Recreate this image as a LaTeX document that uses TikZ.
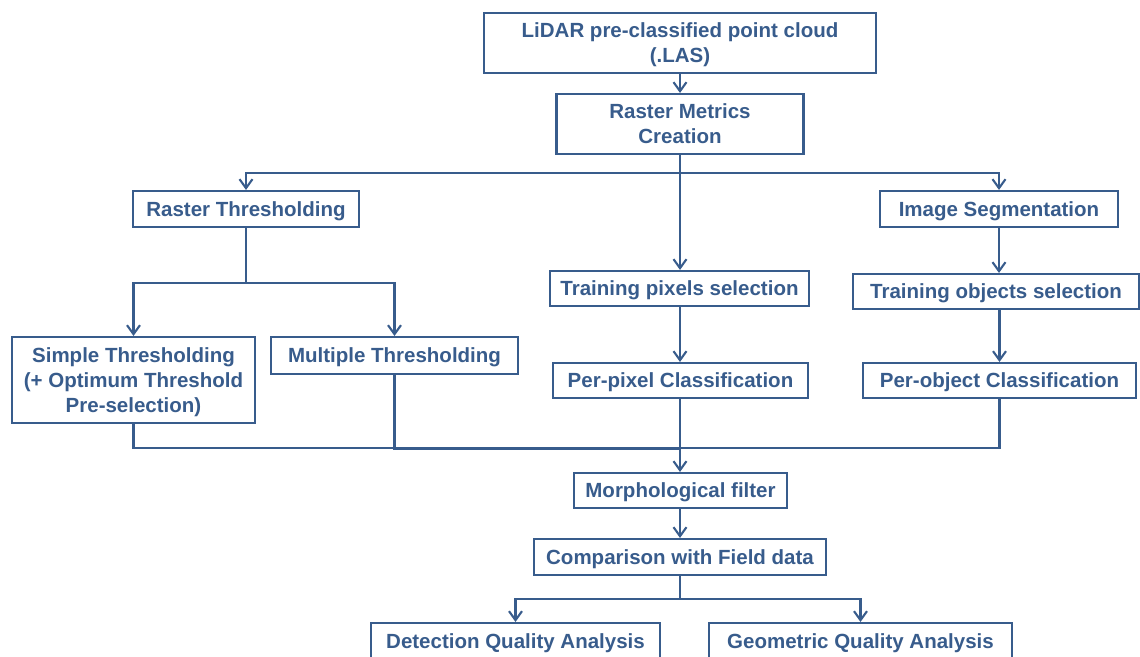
\documentclass[tikz,border=0pt]{standalone}
\usepackage{fontspec}
\setmainfont{Liberation Sans}
\usetikzlibrary{arrows.meta}
\definecolor{fc}{RGB}{56,92,140}
\begin{document}
\begin{tikzpicture}[x=1pt,y=-1pt,
  box/.style={draw=fc, line width=2.1pt, text=fc, fill=white,
    font=\fontsize{20.5}{25}\selectfont\bfseries, align=center, inner sep=0pt, text depth=0pt},
  ln/.style={draw=fc, line width=2.1pt},
  arr/.style={draw=fc, line width=2.1pt, -{Straight Barb[length=9pt,width=13pt]}}]
\useasboundingbox (0,0) rectangle (1140,656);
\node[box, minimum width=392pt, minimum height=60pt] (lidar) at (680,43) {LiDAR pre-classified point cloud\\(.LAS)};
\node[box, minimum width=247pt, minimum height=60pt] (rmc) at (680,124) {Raster Metrics\\Creation};
\node[box, minimum width=226pt, minimum height=36pt] (rthr) at (246,209) {Raster Thresholding};
\node[box, minimum width=238pt, minimum height=36pt] (imgseg) at (999,209) {Image Segmentation};
\node[box, minimum width=259pt, minimum height=35pt] (trpix) at (679.5,288.5) {Training pixels selection};
\node[box, minimum width=286pt, minimum height=35pt] (trobj) at (996,291.5) {Training objects selection};
\node[box, minimum width=243pt, minimum height=86pt] (simple) at (133.5,380) {Simple Thresholding\\(+ Optimum Threshold\\Pre-selection)};
\node[box, minimum width=247pt, minimum height=37pt] (multi) at (394.5,355.5) {Multiple Thresholding};
\node[box, minimum width=255pt, minimum height=35pt] (perpix) at (680.5,380.5) {Per-pixel Classification};
\node[box, minimum width=273pt, minimum height=35pt] (perobj) at (999.5,380.5) {Per-object Classification};
\node[box, minimum width=213pt, minimum height=35pt] (morph) at (680.5,490.5) {Morphological filter};
\node[box, minimum width=292pt, minimum height=36pt] (comp) at (680,557) {Comparison with Field data};
\node[box, minimum width=289pt, minimum height=36pt] (detect) at (515.5,641) {Detection Quality Analysis};
\node[box, minimum width=303pt, minimum height=36pt] (geom) at (860.5,641) {Geometric Quality Analysis};
% connectors
\draw[arr] (lidar.south) -- (rmc.north);
\draw[ln] (rmc.south) -- ++(0,18) coordinate (sp1);
\draw[arr] (sp1) -| (rthr.north);
\draw[arr] (sp1) -| (imgseg.north);
\draw[arr] (rmc.south) -- (rmc.south |- trpix.north);
\draw[ln] (rthr.south) -- ++(0,55) coordinate (sp2);
\draw[arr] (sp2) -| (simple.north);
\draw[arr] (sp2) -| (multi.north);
\draw[arr] (imgseg.south) -- (imgseg.south |- trobj.north);
\draw[arr] (perobj.north |- trobj.south) -- (perobj.north);
\draw[arr] (rmc.south |- trpix.south) -- (rmc.south |- perpix.north);
\coordinate (mg) at (680,448);
\coordinate (mg2) at (680,449);
\draw[ln] (simple.south) |- (mg);
\draw[ln] (multi.south) |- (mg2);
\draw[ln] (perobj.south) |- (mg);
\draw[arr] (rmc.south |- perpix.south) -- (rmc.south |- morph.north);
\draw[arr] (rmc.south |- morph.south) -- (rmc.south |- comp.north);
\draw[ln] (comp.south) -- ++(0,23) coordinate (sp3);
\draw[arr] (sp3) -| (detect.north);
\draw[arr] (sp3) -| (geom.north);
\end{tikzpicture}
\end{document}
